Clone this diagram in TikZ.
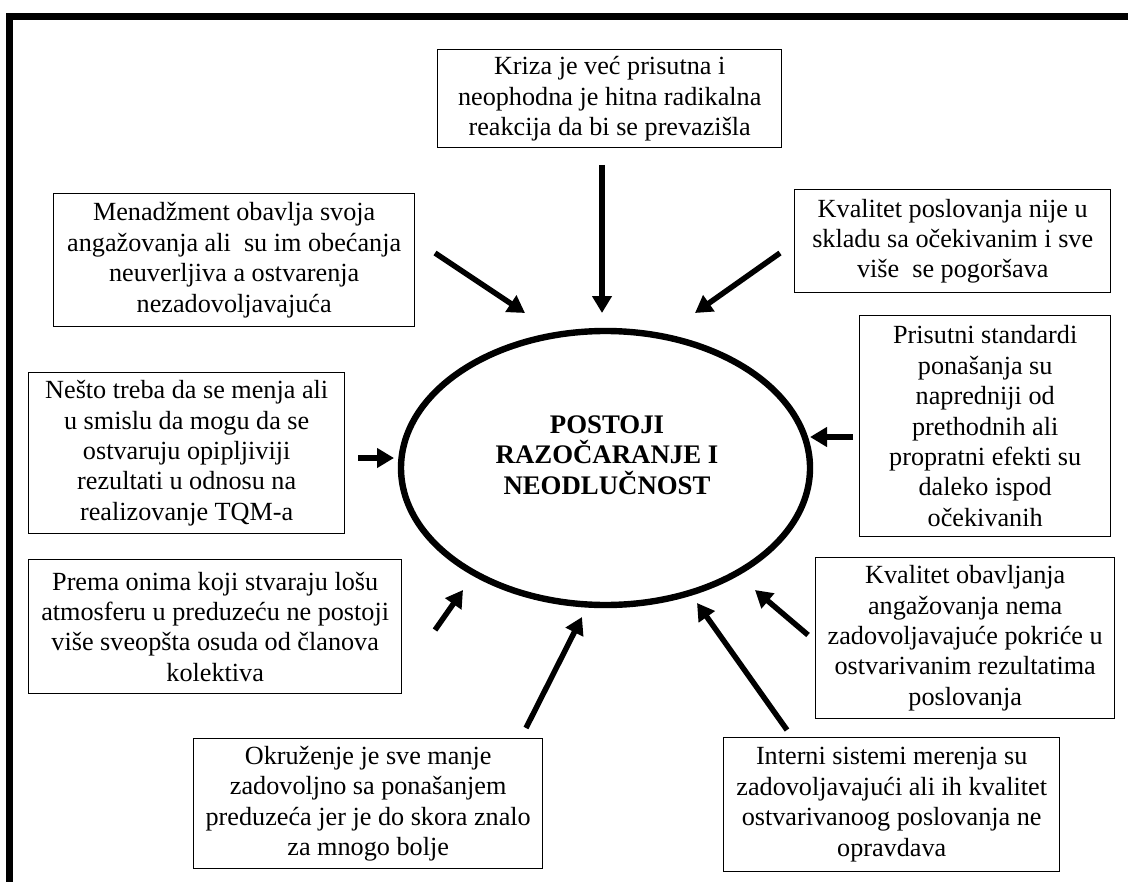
\documentclass[tikz,border=0pt]{standalone}
\usepackage{fontspec}
\setmainfont{Liberation Serif}
\usetikzlibrary{arrows.meta,shapes.geometric}

\tikzset{
  txt/.style={font=\fontsize{13.1}{15.2}\selectfont, align=center},
  card/.style={txt, draw, line width=0.7pt, inner sep=0pt, anchor=north west},
  push/.style={line width=2.75pt, -{Triangle[length=8.5pt,width=9.5pt]}},
}

% a card: corner (x1,y1), size (w,h) in pixel units
\newcommand{\card}[6]{%
  \node[card, minimum width=#4*0.5pt, minimum height=#5*0.5pt] (#1) at (#2,#3) {#6};}

\begin{document}
\begin{tikzpicture}[x=0.5pt, y=-0.5pt]
\useasboundingbox (0,0) rectangle (1128,882);
\clip (0,0) rectangle (1128,882);

% outer frame, running past the right and bottom edges
\draw[line width=3.5pt] (9.5,900) -- (9.5,17) -- (1140,17);

% central ellipse
\node[ellipse, draw, line width=3.2pt, minimum width=204.5pt, minimum height=137pt, inner sep=0pt]
  (core) at (605.5,468) {};
\node[txt, font=\fontsize{13.4}{15.2}\selectfont\bfseries] (coretext) at (607,455)
  {POSTOJI\\RAZOČARANJE I\\NEODLUČNOST};

% surrounding statements
\card{kriza}{437}{49}{344}{98}{Kriza je već prisutna i\\neophodna je hitna radikalna\\reakcija da bi se prevazišla}
\card{menad}{53}{193}{361}{133}{Menadžment obavlja svoja\\angažovanja ali\ \ su im obećanja\\neuverljiva a ostvarenja\\nezadovoljavajuća}
\card{kvpos}{794}{189}{316}{103}{Kvalitet poslovanja nije u\\skladu sa očekivanim i sve\\više\ \ se pogoršava}
\card{prisut}{859}{315}{251}{221}{Prisutni standardi\\ponašanja su\\napredniji od\\prethodnih ali\\propratni efekti su\\daleko ispod\\očekivanih}
\card{nesto}{28}{372}{316}{161}{Nešto treba da se menja ali\\u smislu da mogu da se\\ostvaruju opipljiviji\\rezultati u odnosu na\\realizovanje TQM-a}
\card{prema}{28}{559}{373}{134}{Prema onima koji stvaraju lošu\\atmosferu u preduzeću ne postoji\\više sveopšta osuda od članova\\kolektiva}
\card{kvobav}{815}{557}{299}{161}{Kvalitet obavljanja\\angažovanja nema\\zadovoljavajuće pokriće u\\ostvarivanim rezultatima\\poslovanja}
\card{okruz}{193}{738}{349}{130}{Okruženje je sve manje\\zadovoljno sa ponašanjem\\preduzeća jer je do skora znalo\\za mnogo bolje}
\card{interni}{723}{737}{336}{134}{Interni sistemi merenja su\\zadovoljavajući ali ih kvalitet\\ostvarivanoog poslovanja ne\\opravdava}

% arrow tails (near the cards) and tips (near the ellipse)
\coordinate (krizaT) at (602,165);   \coordinate (krizaH) at (602,313);
\coordinate (menadT) at (435,253);   \coordinate (menadH) at (525,313);
\coordinate (kvposT) at (780,253);   \coordinate (kvposH) at (695,313);
\coordinate (prisutT) at (853,437);  \coordinate (prisutH) at (810,437);
\coordinate (nestoT) at (358,458);   \coordinate (nestoH) at (394,458);
\coordinate (premaT) at (435,630);   \coordinate (premaH) at (463,590);
\coordinate (okruzT) at (526,728);   \coordinate (okruzH) at (582,617);
\coordinate (interniT) at (787,730); \coordinate (interniH) at (697,603);
\coordinate (kvobavT) at (808,635);  \coordinate (kvobavH) at (755,590);

\foreach \n in {kriza,menad,kvpos,prisut,nesto,prema,okruz,interni,kvobav}
  \draw[push] (\n T) -- (\n H);
\end{tikzpicture}
\end{document}
